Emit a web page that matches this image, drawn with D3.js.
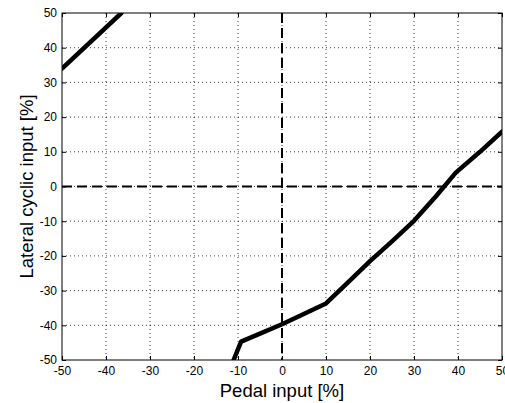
<!DOCTYPE html>
<html>
  <head>
    <meta charset="UTF-8" />
    <script src="https://cdnjs.cloudflare.com/ajax/libs/d3/7.8.5/d3.min.js"></script>
    <style>
      body { margin: 0; background: #fff; }
      text { font-family: "Liberation Sans", Arial, sans-serif; fill: #000; }
      .tick text { font-size: 12px; }
      .domain { display: none; }
    </style>
  </head>
  <body>
    <svg id="chart" width="505" height="403"></svg>
    <script>
      // upper-left branch
      const branchX = [-50, -36.5];
      const branchY = [34, 50];
      // main curve
      const pedal = [-11, -9.3, -5, 0, 10, 15, 20, 25, 30, 35, 39.5, 45, 50];
      const lateral = [-50, -44.7, -42.4, -39.7, -33.7, -27.6, -21.5, -15.8, -9.9, -2.8, 4, 10, 15.8];
      const ticks = [-50, -40, -30, -20, -10, 0, 10, 20, 30, 40, 50];

      const svg = d3.select("#chart");
      const mLeft = 62, mRight = 502, mTop = 13, mBottom = 360;

      const x = d3.scaleLinear().domain([-50, 50]).range([mLeft, mRight]);
      const y = d3.scaleLinear().domain([-50, 50]).range([mBottom, mTop]);

      // dotted grid
      const grid = svg.append("g");
      grid.selectAll("line.gx")
        .data(ticks.slice(1, -1))
        .enter().append("line")
        .attr("x1", d => x(d)).attr("x2", d => x(d))
        .attr("y1", mTop).attr("y2", mBottom)
        .attr("stroke", "#000").attr("stroke-width", 1)
        .attr("stroke-dasharray", "1,3").attr("opacity", 0.75);
      grid.selectAll("line.gy")
        .data(ticks.slice(1, -1))
        .enter().append("line")
        .attr("y1", d => y(d)).attr("y2", d => y(d))
        .attr("x1", mLeft).attr("x2", mRight)
        .attr("stroke", "#000").attr("stroke-width", 1)
        .attr("stroke-dasharray", "1,3").attr("opacity", 0.75);

      // dashed zero lines
      svg.append("line")
        .attr("x1", x(0)).attr("x2", x(0)).attr("y1", mTop).attr("y2", mBottom)
        .attr("stroke", "#000").attr("stroke-width", 2).attr("stroke-dasharray", "10,5");
      svg.append("line")
        .attr("y1", y(0)).attr("y2", y(0)).attr("x1", mLeft).attr("x2", mRight)
        .attr("stroke", "#000").attr("stroke-width", 2).attr("stroke-dasharray", "10,5");

      // axes (plain hyphen minus like the original)
      const fmt = d => String(d);
      svg.append("g")
        .attr("transform", `translate(0,${mBottom})`)
        .call(d3.axisBottom(x).tickValues(ticks).tickSize(-4).tickPadding(6).tickFormat(fmt));
      svg.append("g")
        .attr("transform", `translate(${mLeft},0)`)
        .call(d3.axisLeft(y).tickValues(ticks).tickSize(-4).tickPadding(5).tickFormat(fmt));
      svg.append("g")
        .attr("transform", `translate(0,${mTop})`)
        .call(d3.axisTop(x).tickValues(ticks).tickSize(-4).tickFormat(""));
      svg.append("g")
        .attr("transform", `translate(${mRight},0)`)
        .call(d3.axisRight(y).tickValues(ticks).tickSize(-4).tickFormat(""));
      svg.selectAll(".tick line").attr("stroke", "#000");

      // border
      svg.append("rect")
        .attr("x", mLeft).attr("y", mTop)
        .attr("width", mRight - mLeft).attr("height", mBottom - mTop)
        .attr("fill", "none").attr("stroke", "#000").attr("stroke-width", 1);

      // curves
      svg.append("clipPath").attr("id", "clip")
        .append("rect").attr("x", mLeft).attr("y", mTop)
        .attr("width", mRight - mLeft).attr("height", mBottom - mTop);
      const line = d3.line().x(d => x(d[0])).y(d => y(d[1]));
      svg.append("path")
        .attr("clip-path", "url(#clip)")
        .attr("d", line(d3.zip(branchX, branchY)))
        .attr("fill", "none").attr("stroke", "#000").attr("stroke-width", 4.5)
        .attr("stroke-linejoin", "round").attr("stroke-linecap", "round");
      svg.append("path")
        .attr("clip-path", "url(#clip)")
        .attr("d", line(d3.zip(pedal, lateral)))
        .attr("fill", "none").attr("stroke", "#000").attr("stroke-width", 4.5)
        .attr("stroke-linejoin", "round").attr("stroke-linecap", "round");

      // axis labels
      svg.append("text")
        .attr("x", (mLeft + mRight) / 2).attr("y", 397)
        .attr("text-anchor", "middle").style("font-size", "18.5px")
        .text("Pedal input [%]");
      svg.append("text")
        .attr("transform", `translate(33,${(mTop + mBottom) / 2}) rotate(-90)`)
        .attr("text-anchor", "middle").style("font-size", "18.5px")
        .text("Lateral cyclic input [%]");
    </script>
  </body>
</html>
